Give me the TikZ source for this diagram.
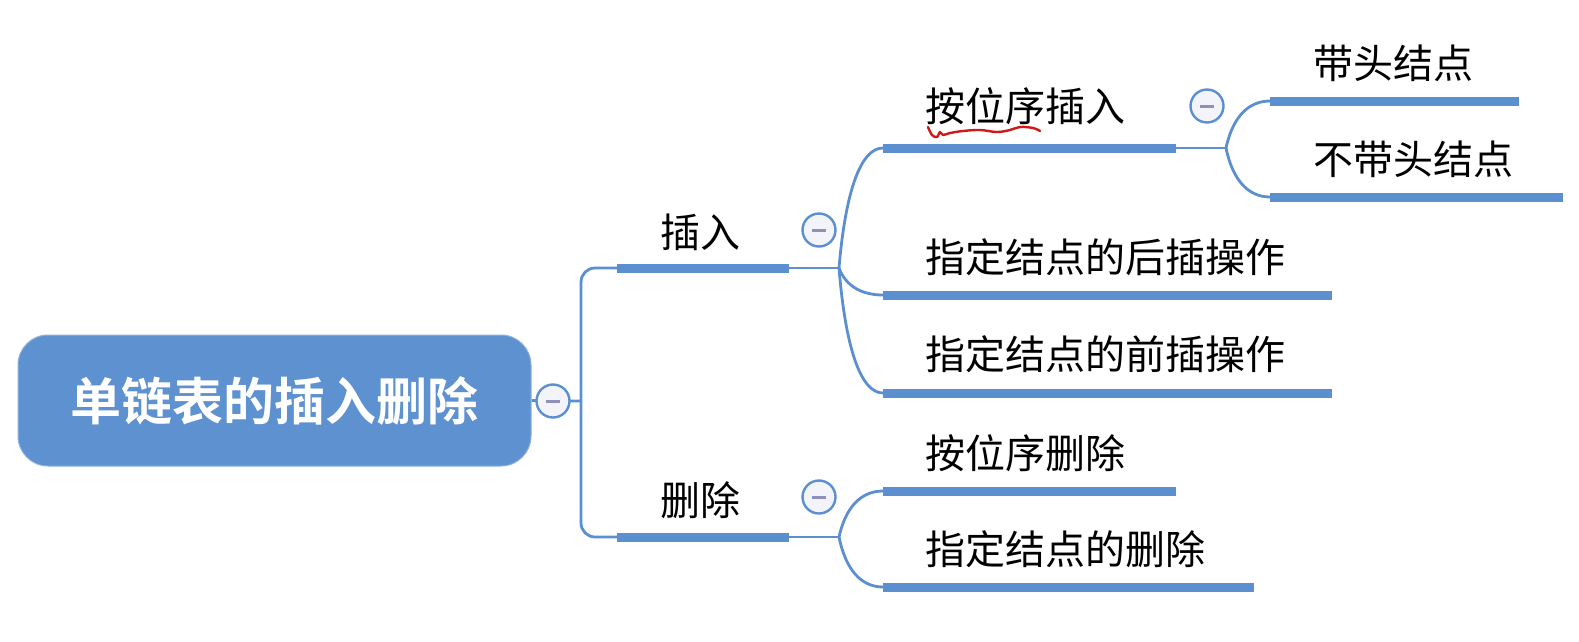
\documentclass[tikz,border=0pt]{standalone}
\usepackage{fontspec}
\newfontfamily\cjk{Noto Sans CJK SC}
\newfontfamily\cjkbold{Noto Sans CJK SC Bold}
\usetikzlibrary{calc}
\definecolor{mmblue}{HTML}{5B8FD0}
\definecolor{rootblue}{HTML}{5E91D0}
\definecolor{foldfill}{HTML}{F3F3FA}
\definecolor{foldminus}{HTML}{8F8FB8}
\definecolor{squiggle}{HTML}{D01818}
\pgfdeclarelayer{background}
\pgfsetlayers{background,main}
\newcommand\mmlink[2]{\draw[conn] let \p1=(#1), \p2=(#2) in (\p1) .. controls ({\x1+0.15*(\x2-\x1)},{\y1+0.65*(\y2-\y1)}) and ({\x2-0.5*(\x2-\x1)},\y2) .. (\p2);}
\begin{document}
\begin{tikzpicture}[x=1pt,y=-1pt,
  bar/.style={rectangle, fill=mmblue, draw=none, minimum height=9pt, inner sep=0pt, anchor=west},
  topic/.style={anchor=west, inner sep=0pt, font=\cjk\fontsize{40}{42}\selectfont},
  conn/.style={draw=mmblue, line width=2.8pt},
  fold/.style={circle, draw=mmblue, line width=2.4pt, fill=foldfill, minimum size=33pt, inner sep=0pt,
    path picture={\draw[foldminus, line width=3pt] ($(path picture bounding box.center)+(-7pt,0pt)$) -- ++(14pt,0pt);}},
  rootbox/.style={rectangle, rounded corners=30pt, fill=rootblue, draw=rootblue!70!white, line width=1pt,
    minimum width=513pt, minimum height=131pt, inner sep=0pt, text=white,
    font=\cjkbold\fontsize{51}{54}\selectfont}
]
\useasboundingbox (0,0) rectangle (1579,641);

% root
\node[rootbox] (root) at (274.5,400.5) {单链表的插入删除};
\node[fold] (f-root) at (553,401) {};
\coordinate (trunk) at (581,401);

% level 1
\node[bar, minimum width=172pt] (b-ins) at (617,268) {};
\node[topic] (t-ins) at (660,232) {插入};
\node[fold] (f-ins) at (819,230) {};
\coordinate (j-ins) at (839,268);

\node[bar, minimum width=172pt] (b-del) at (617,537) {};
\node[topic] (t-del) at (660,500) {删除};
\node[fold] (f-del) at (819,497) {};
\coordinate (j-del) at (839,537);

% level 2 under insert
\node[bar, minimum width=293pt] (b-ap) at (883,148) {};
\node[topic] (t-ap) at (925,106) {按位序插入};
\node[fold] (f-ap) at (1207,106) {};
\coordinate (j-ap) at (1226,148);

\node[bar, minimum width=449pt] (b-after) at (883,295) {};
\node[topic] (t-after) at (925,257) {指定结点的后插操作};

\node[bar, minimum width=449pt] (b-before) at (883,393) {};
\node[topic] (t-before) at (925,354) {指定结点的前插操作};

% level 3
\node[bar, minimum width=249pt] (b-head) at (1270,101) {};
\node[topic] (t-head) at (1313,63) {带头结点};

\node[bar, minimum width=293pt] (b-nohead) at (1270,197) {};
\node[topic] (t-nohead) at (1313,159) {不带头结点};

% level 2 under delete
\node[bar, minimum width=293pt] (b-dp) at (883,491) {};
\node[topic] (t-dp) at (925,453) {按位序删除};

\node[bar, minimum width=371pt] (b-dn) at (883,587) {};
\node[topic] (t-dn) at (925,549) {指定结点的删除};

% connectors
\begin{pgfonlayer}{background}
\draw[conn] (root.east) -- (f-root.center) -- (trunk);
\draw[conn, rounded corners=14pt] (trunk) |- (b-ins.west);
\draw[conn, rounded corners=14pt] (trunk) |- (b-del.west);
\draw[conn] (b-ins.east) -- (j-ins);
\draw[conn] (b-del.east) -- (j-del);
\draw[conn] (b-ap.east) -- (j-ap);
\mmlink{j-ins}{b-ap.west}
\mmlink{j-ins}{b-after.west}
\mmlink{j-ins}{b-before.west}
\mmlink{j-ap}{b-head.west}
\mmlink{j-ap}{b-nohead.west}
\mmlink{j-del}{b-dp.west}
\mmlink{j-del}{b-dn.west}
\end{pgfonlayer}

% red hand-drawn squiggle under 按位序
\draw[squiggle, line width=2.4pt, line cap=round, line join=round]
  plot[smooth, tension=0.6] coordinates {(928,127) (932,135) (937,137) (940,132) (943,135) (950,133) (963,131) (980,130) (997,132) (1010,130) (1020,127) (1033,128) (1040,131)};
\end{tikzpicture}
\end{document}
